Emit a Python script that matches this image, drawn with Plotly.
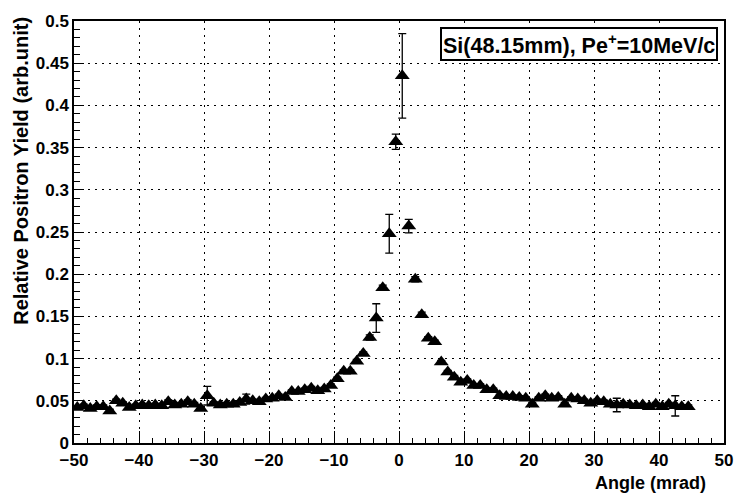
import numpy as np
import plotly.graph_objects as go

# Bin centres (mrad), 1 mrad bins
angle = [
    -49.5, -48.5, -47.5, -46.5, -45.5, -44.5, -43.5, -42.5, -41.5, -40.5,
    -39.5, -38.5, -37.5, -36.5, -35.5, -34.5, -33.5, -32.5, -31.5, -30.5,
    -29.5, -28.5, -27.5, -26.5, -25.5, -24.5, -23.5, -22.5, -21.5, -20.5,
    -19.5, -18.5, -17.5, -16.5, -15.5, -14.5, -13.5, -12.5, -11.5, -10.5,
    -9.5, -8.5, -7.5, -6.5, -5.5, -4.5, -3.5, -2.5, -1.5, -0.5,
    0.5, 1.5, 2.5, 3.5, 4.5, 5.5, 6.5, 7.5, 8.5, 9.5,
    10.5, 11.5, 12.5, 13.5, 14.5, 15.5, 16.5, 17.5, 18.5, 19.5,
    20.5, 21.5, 22.5, 23.5, 24.5, 25.5, 26.5, 27.5, 28.5, 29.5,
    30.5, 31.5, 32.5, 33.5, 34.5, 35.5, 36.5, 37.5, 38.5, 39.5,
    40.5, 41.5, 42.5, 43.5, 44.5,
]

# Relative positron yield (arb. unit)
yield_rel = [
    0.042, 0.044, 0.041, 0.043, 0.043, 0.038, 0.050, 0.047, 0.042, 0.044,
    0.045, 0.044, 0.045, 0.044, 0.049, 0.045, 0.046, 0.049, 0.046, 0.041,
    0.056, 0.047, 0.045, 0.046, 0.046, 0.048, 0.052, 0.050, 0.049, 0.052,
    0.053, 0.056, 0.054, 0.061, 0.061, 0.063, 0.065, 0.062, 0.064, 0.068,
    0.076, 0.085, 0.085, 0.097, 0.106, 0.125, 0.148, 0.184, 0.248, 0.357,
    0.435, 0.257, 0.194, 0.152, 0.124, 0.120, 0.096, 0.084, 0.078, 0.072,
    0.074, 0.068, 0.068, 0.063, 0.063, 0.056, 0.055, 0.055, 0.054, 0.053,
    0.046, 0.053, 0.056, 0.053, 0.054, 0.046, 0.053, 0.052, 0.050, 0.047,
    0.050, 0.049, 0.046, 0.045, 0.046, 0.045, 0.044, 0.045, 0.043, 0.046,
    0.043, 0.046, 0.044, 0.043, 0.043,
]

# Statistical errors
yield_err = [
    0.002, 0.002, 0.002, 0.002, 0.002, 0.002, 0.002, 0.002, 0.002, 0.002,
    0.002, 0.002, 0.002, 0.002, 0.002, 0.002, 0.002, 0.002, 0.002, 0.002,
    0.011, 0.002, 0.002, 0.002, 0.002, 0.002, 0.006, 0.002, 0.002, 0.002,
    0.002, 0.002, 0.002, 0.002, 0.002, 0.002, 0.002, 0.002, 0.002, 0.002,
    0.002, 0.002, 0.002, 0.002, 0.002, 0.003, 0.017, 0.003, 0.023, 0.009,
    0.050, 0.008, 0.003, 0.003, 0.002, 0.002, 0.002, 0.002, 0.002, 0.002,
    0.002, 0.002, 0.002, 0.002, 0.002, 0.002, 0.002, 0.002, 0.002, 0.002,
    0.002, 0.002, 0.002, 0.002, 0.002, 0.002, 0.002, 0.002, 0.002, 0.002,
    0.002, 0.002, 0.002, 0.008, 0.002, 0.002, 0.002, 0.002, 0.002, 0.002,
    0.002, 0.002, 0.012, 0.002, 0.002,
]

x_ticks = [-50, -40, -30, -20, -10, 0, 10, 20, 30, 40, 50]
y_ticks = [0, 0.05, 0.1, 0.15, 0.2, 0.25, 0.3, 0.35, 0.4, 0.45, 0.5]
y_tick_text = ["0", "0.05", "0.1", "0.15", "0.2", "0.25", "0.3", "0.35", "0.4", "0.45", "0.5"]

FONT = "Liberation Sans"

fig = go.Figure()
fig.add_trace(go.Scatter(
    x=angle, y=yield_rel, mode="markers",
    marker=dict(symbol="triangle-up", size=13, color="black"),
    error_y=dict(type="data", array=yield_err, color="black", thickness=1.3, width=4),
    showlegend=False,
))

axis_common = dict(
    showline=True, linecolor="black", linewidth=1.5, mirror=True,
    ticks="inside", tickcolor="black", tickwidth=1,
    showgrid=True, gridcolor="black", gridwidth=1, griddash="2px,5px",
    zeroline=False,
    tickfont=dict(family=FONT, size=17, color="black", weight="bold"),
)

fig.update_xaxes(
    range=[-50, 50], tickvals=x_ticks, ticklen=12, ticklabelstandoff=1,
    minor=dict(ticks="inside", ticklen=5, dtick=2, tickcolor="black", showgrid=False),
    **axis_common,
)
fig.update_yaxes(
    range=[0, 0.5], tickvals=y_ticks, ticktext=y_tick_text, ticklen=10,
    minor=dict(ticks="inside", ticklen=6, dtick=0.01, tickcolor="black", showgrid=False),
    **axis_common,
)

fig.add_annotation(
    text="Angle (mrad)", xref="paper", yref="paper", x=0.976, y=-0.094,
    xanchor="right", yanchor="middle", showarrow=False,
    font=dict(family=FONT, size=18, color="black", weight="bold"),
)
fig.add_annotation(
    text="Relative Positron Yield (arb.unit)", xref="paper", yref="paper",
    x=-0.082, y=1.014, xanchor="center", yanchor="top", textangle=-90,
    showarrow=False,
    font=dict(family=FONT, size=20, color="black", weight="bold"),
)
fig.add_annotation(
    text="Si(48.15mm), Pe<sup>+</sup>=10MeV/c", xref="paper", yref="paper",
    x=0.9915, y=0.985, xanchor="right", yanchor="top", showarrow=False,
    bgcolor="white", bordercolor="black", borderwidth=2, borderpad=1,
    font=dict(family=FONT, size=21.5, color="black", weight="bold"),
)

fig.update_layout(
    width=745, height=497,
    margin=dict(l=74, r=14, t=13, b=54),
    paper_bgcolor="white", plot_bgcolor="white",
)

fig.write_html("out.html")
